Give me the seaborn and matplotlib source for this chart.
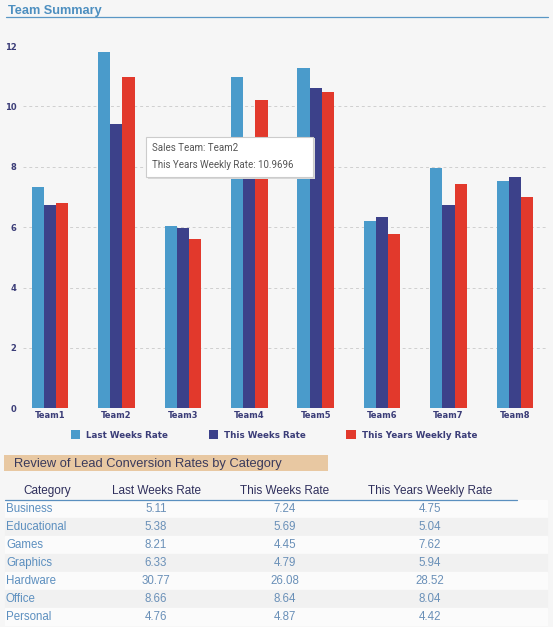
import pandas as pd
import numpy as np
import matplotlib.pyplot as plt
from matplotlib.patches import Rectangle
from matplotlib.lines import Line2D
import seaborn as sns

# chart data
teams = ['Team1', 'Team2', 'Team3', 'Team4', 'Team5', 'Team6', 'Team7', 'Team8']
last_weeks = [7.32, 11.81, 6.04, 10.97, 11.28, 6.21, 7.97, 7.54]
this_weeks = [6.73, 9.41, 5.96, 8.30, 10.62, 6.34, 6.72, 7.66]
this_years = [6.80, 10.9696, 5.61, 10.21, 10.47, 5.77, 7.42, 7.01]
series_names = ['Last Weeks Rate', 'This Weeks Rate', 'This Years Weekly Rate']
yticks = [0, 2, 4, 6, 8, 10, 12]

# table data
categories = ['Business', 'Educational', 'Games', 'Graphics', 'Hardware', 'Office', 'Personal']
tbl_last = [5.11, 5.38, 8.21, 6.33, 30.77, 8.66, 4.76]
tbl_this = [7.24, 5.69, 4.45, 4.79, 26.08, 8.64, 4.87]
tbl_year = [4.75, 5.04, 7.62, 5.94, 28.52, 8.04, 4.42]
tbl_cols = ['Category', 'Last Weeks Rate', 'This Weeks Rate', 'This Years Weekly Rate']

colors = ['#4a9bcb', '#3c418a', '#e2392c']
bg = '#f6f6f6'
navy = '#3b3d78'
W, H = 553, 627

df = pd.DataFrame({'Team': teams * 3,
                   'Series': np.repeat(series_names, len(teams)),
                   'Value': last_weeks + this_weeks + this_years})

sns.set_theme(style='white')
plt.rcParams['font.family'] = ['Liberation Sans', 'DejaVu Sans']

fig = plt.figure(figsize=(W / 100, H / 100), dpi=100, facecolor=bg)

def px(x0, y0, x1, y1):
    return [x0 / W, 1 - y1 / H, (x1 - x0) / W, (y1 - y0) / H]

# title
fig.text(8 / W, 1 - 11 / H, 'Team Summary', fontsize=9.2, fontweight='bold',
         color='#4d8fc0', va='center', ha='left')
fig.add_artist(Line2D([6 / W, 548 / W], [1 - 17 / H, 1 - 17 / H], color='#5a97c5', lw=0.9))

# bar chart
ax = fig.add_axes(px(23.4, 46, 548.2, 408.3))
ax.set_facecolor(bg)
sns.barplot(data=df, x='Team', y='Value', hue='Series', palette=colors, width=0.55,
            saturation=1, gap=0, ax=ax, edgecolor='none', linewidth=0)
ax.set_xlim(-0.4, 7.5)
ax.set_ylim(0, 12)
ax.set_yticks(yticks)
ax.set_xlabel('')
ax.set_ylabel('')
for s in ax.spines.values():
    s.set_visible(False)
ax.yaxis.grid(True, linestyle=(0, (3, 3)), color='#cfcfcf', lw=0.7)
gl = ax.yaxis.get_gridlines()
gl[0].set_visible(False)
gl[-1].set_visible(False)
ax.set_axisbelow(True)
ax.tick_params(axis='both', length=0, labelsize=6, labelcolor=navy)
ax.tick_params(axis='y', pad=5)
ax.tick_params(axis='x', pad=2)
for lab in ax.get_xticklabels() + ax.get_yticklabels():
    lab.set_fontweight('bold')
    lab.set_family('DejaVu Sans')

handles, labels = ax.get_legend_handles_labels()
ax.get_legend().remove()
leg = fig.legend(handles, labels, loc='center', bbox_to_anchor=(274 / W, 1 - 435 / H),
                 ncol=3, frameon=False, handlelength=1.1, handleheight=1.1,
                 handletextpad=0.7, columnspacing=4.6,
                 prop={'family': 'DejaVu Sans', 'weight': 'bold', 'size': 6.3})
for t in leg.get_texts():
    t.set_color(navy)

# tooltip
tip = Rectangle((146 / W, 1 - 177 / H), 167 / W, 40 / H, transform=fig.transFigure,
                facecolor='white', edgecolor='#cccccc', lw=0.8, zorder=10)
shadow = Rectangle((147.5 / W, 1 - 178.5 / H), 167 / W, 40 / H, transform=fig.transFigure,
                   facecolor='#d8d8d8', edgecolor='none', zorder=9)
fig.add_artist(shadow)
fig.add_artist(tip)
fig.text(152 / W, 1 - 148 / H, 'Sales Team: Team2', fontsize=7, color='#555555',
         family='Roboto', va='center', zorder=11)
fig.text(152 / W, 1 - 165 / H, 'This Years Weekly Rate: 10.9696', fontsize=7,
         color='#555555', family='Roboto', va='center', zorder=11)

# table section header
fig.add_artist(Rectangle((4 / W, 1 - 471 / H), 324 / W, 16 / H, transform=fig.transFigure,
                         facecolor='#e8c8a2', edgecolor='none'))
fig.text(14 / W, 1 - 463.5 / H, 'Review of Lead Conversion Rates by Category', fontsize=9.3,
         color='#3a3a5c', va='center', ha='left')

# table
axt = fig.add_axes(px(0, 482, W, 626))
axt.set_xlim(0, W)
axt.set_ylim(6.5, -1.5)
axt.axis('off')
col_x = [6, 156, 285, 430]
for j, name in enumerate(tbl_cols):
    axt.text(47 if j == 0 else col_x[j], -1, name, ha='center', va='center',
             fontsize=8.5, color='#2f2f5c')
axt.plot([5, 517], [-0.5, -0.5], color='#5a8fbf', lw=0.9)
for i, cat in enumerate(categories):
    axt.axhspan(i - 0.5, i + 0.5, xmin=5 / W, xmax=547 / W,
                color='#fbfbfb' if i % 2 == 0 else '#f1f1f1', zorder=0)
    axt.text(col_x[0], i, cat, ha='left', va='center', fontsize=8.3, color='#5c8fbf')
    for j, vals in enumerate([tbl_last, tbl_this, tbl_year], start=1):
        axt.text(col_x[j], i, f'{vals[i]:.2f}', ha='center', va='center',
                 fontsize=8.3, color='#6a90b8')

fig.savefig('out.png', dpi=100, facecolor=bg)
